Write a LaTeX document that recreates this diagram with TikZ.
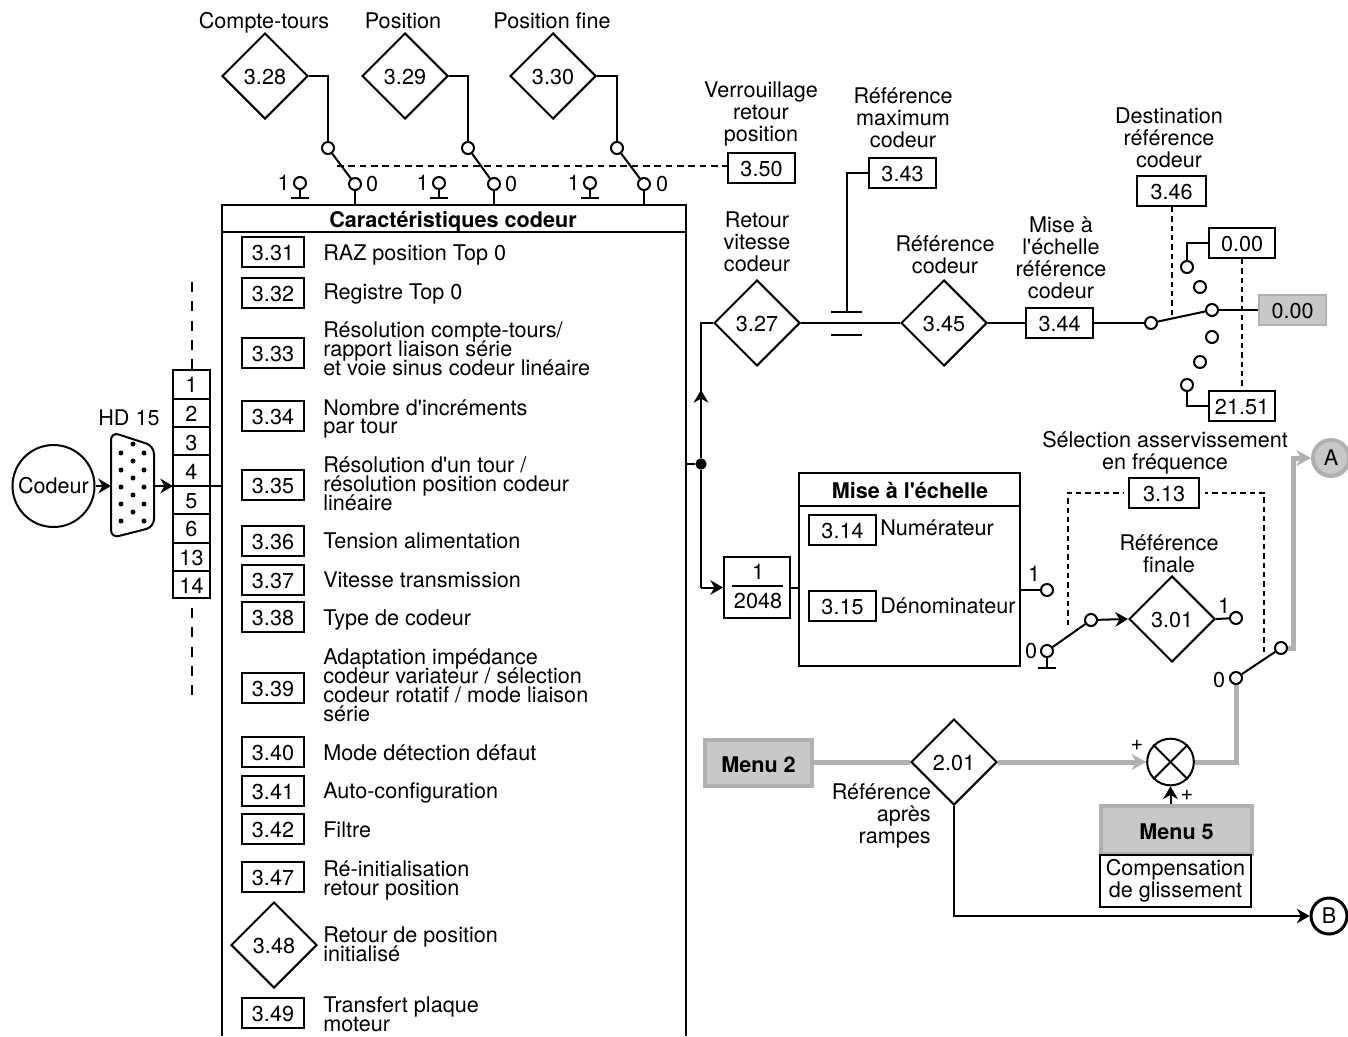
\documentclass[tikz,border=0pt]{standalone}
\usepackage{fontspec}
\setmainfont{TeX Gyre Heros}
\newfontfamily\apf{TeX Gyre Heros}
\newcommand{\qq}{{\apf'}}
\newcommand{\fnt}{\fontsize{16.2}{16.5}\selectfont}
\usetikzlibrary{arrows.meta,shapes.geometric,calc}
\definecolor{gfill}{HTML}{C8C8C8}
\definecolor{gline}{HTML}{B0B0B0}
\tikzset{
  wire/.style={line width=1.5pt,black},
  dashh/.style={line width=1.5pt,dash pattern=on 5pt off 3.5pt},
  dashv/.style={line width=1.5pt,dash pattern=on 4pt off 3pt},
  gwire/.style={line width=3.75pt,gline},
  atip/.style={-{Stealth[length=9.5pt,width=11pt]}},
  gtip/.style={-{Stealth[length=11pt,width=12pt]}},
  lbl/.style={inner sep=0pt,align=center,font=\fnt},
  rlbl/.style={inner sep=0pt,align=right,anchor=east,font=\fnt},
  itemt/.style={inner sep=0pt,align=left,anchor=west,font=\fontsize{16.2}{14.2}\selectfont},
  ttl/.style={inner sep=0pt,font=\fnt\bfseries},
  pbox/.style={draw,line width=1.5pt,fill=white,inner sep=0pt,minimum width=46.5pt,minimum height=22.5pt,font=\fnt,text height=13pt,text depth=0pt},
  rbox/.style={pbox,minimum width=50pt},
  gbox/.style={rbox,fill=gfill,draw=gline},
  pinlab/.style={inner sep=0pt,font=\fnt},
  dia/.style={diamond,aspect=1,draw,line width=1.5pt,fill=white,inner sep=0pt,minimum width=64.5pt,minimum height=64.5pt,font=\fnt,text height=13pt,text depth=0pt},
  sw/.style={circle,draw,line width=1.5pt,fill=white,inner sep=0pt,minimum size=9pt},
  menubox/.style={draw=gline,line width=3pt,fill=gfill,inner sep=0pt,font=\fnt\bfseries,text height=13.5pt,text depth=0pt},
  conn/.style={circle,draw,line width=1.5pt,fill=white,inner sep=0pt,minimum size=27pt,font=\fnt},
}
\begin{document}
\begin{tikzpicture}[x=0.75pt,y=-0.75pt]
\lineskip=0pt\relax
\lineskiplimit=-20pt\relax
\useasboundingbox (0,0) rectangle (1348,1036);
% ---- main box
\coordinate (mbTL) at (222,205);
\coordinate (mbTR) at (686,205);
\coordinate (mbHL) at (222,232);
\coordinate (mbHR) at (686,232);
\coordinate (mbBL) at (222,1036);
\coordinate (mbBR) at (686,1036);
\draw[wire] (mbBL) -- (mbTL) -- (mbTR) -- (mbBR);
\draw[wire] (mbHL) -- (mbHR);
\node[ttl] (mbtitle) at (453,222) {Caractéristiques codeur};
\foreach \nm/\id/\yy in {3.31/31/252,3.32/32/293,3.33/33/353,3.34/34/416,3.35/35/485,3.36/36/541,3.37/37/580,3.38/38/617,3.39/39/688,3.40/40/752,3.41/41/791,3.42/42/829,3.47/47/877,3.49/49/1013}
  \node[pbox] (p\id) at (273,\yy) {\nm};
\node[dia] (p48) at (274,945) {3.48};
\node[itemt] (t331) at (323,255) {RAZ position Top 0};
\node[itemt] (t332) at (323,294) {Registre Top 0};
\node[itemt] (t333) at (323,349) {Résolution compte-tours/\\rapport liaison série\\et voie sinus codeur linéaire};
\node[itemt] (t334) at (323,419) {Nombre d\qq incréments\\par tour};
\node[itemt] (t335) at (323,484) {Résolution d\qq un tour /\\résolution position codeur\\linéaire};
\node[itemt] (t336) at (323,541) {Tension alimentation};
\node[itemt] (t337) at (323,580) {Vitesse transmission};
\node[itemt] (t338) at (323,620) {Type de codeur};
\node[itemt] (t339) at (323,685.5) {Adaptation impédance\\codeur variateur / sélection\\codeur rotatif / mode liaison\\série};
\node[itemt] (t340) at (323,753) {Mode détection défaut};
\node[itemt] (t341) at (323,793) {Auto-configuration};
\node[itemt] (t342) at (323,830) {Filtre};
\node[itemt] (t347) at (323,880) {Ré-initialisation\\retour position};
\node[itemt] (t348) at (323,944) {Retour de position\\initialisé};
\node[itemt] (t349) at (323,1014) {Transfert plaque\\moteur};
% ---- left side
\node[circle,draw,line width=1.5pt,inner sep=0pt,minimum size=61.5pt,font=\fnt] (cod) at (53.5,486) {Codeur};
\node[pinlab] (hdl) at (129,418) {HD 15};
\draw[wire,line join=round,rounded corners=6pt] (111,432) -- (154,446) -- (154,527) -- (111,538) -- cycle;
\coordinate (hdw) at (111,486);
\coordinate (hde) at (154,486);
\foreach \yy in {453,470,487,504,521} {\fill (121,\yy) circle (2.5); \fill (144,\yy) circle (2.5);}
\foreach \yy in {444,461,478,495,512} \fill (133,\yy) circle (2.5);
\draw[wire,atip] (cod) -- (hdw);
\coordinate (pinW) at (173,486);
\coordinate (pinE) at (222,486);
\draw[wire,atip] (hde) -- (pinW);
\draw[wire] (173,370) rectangle (210,598);
\foreach \yy in {399,427,455,514,543,571} \draw[wire] (173,\yy) -- (210,\yy);
\draw[wire] (pinW) -- (pinE);
\foreach \lab/\yy in {1/385,2/414,3/443,4/472,5/501,6/529,13/558,14/586} \node[pinlab] (pin\lab) at (191.5,\yy) {\lab};
\coordinate (dA) at (192,282); \coordinate (dB) at (192,370);
\coordinate (dC) at (192,608); \coordinate (dD) at (192,695);
\draw[line width=1.5pt,dash pattern=on 7.5pt off 7pt] (dA) -- (dB);
\draw[line width=1.5pt,dash pattern=on 7.5pt off 7pt] (dC) -- (dD);
% ---- top diamonds & switches
\node[lbl] (tA) at (264,23) {Compte-tours};
\node[lbl] (tB) at (403,21) {Position};
\node[lbl] (tC) at (552,21) {Position fine};
\node[dia] (d28) at (265,76) {3.28};
\node[dia] (d29) at (405,76) {3.29};
\node[dia] (d30) at (553,76) {3.30};
\node[rbox] (b350) at (761.5,168) {3.50};
\node[lbl] (tV) at (761,114) {Verrouillage\\retour\\position};
\foreach \n/\xa/\xb/\xc/\xd in {a/328/355/300/372,b/468/494/439/511,c/617/644/590/662}{
  \node[sw] (top\n) at (\xa,148) {};
  \node[sw] (zer\n) at (\xb,184) {};
  \node[sw] (one\n) at (\xc,183) {};
  \node[pinlab] (l0\n) at (\xd,184) {0};
  \node[pinlab,anchor=east] (l1\n) at (\xc-10,183) {1};
  \coordinate (gnd\n) at (\xc,198);
  \coordinate (mb\n) at (\xb,205);
  \draw[wire] (top\n) -- (zer\n);
  \draw[wire] (zer\n) -- (mb\n);
  \draw[wire] (one\n) -- (gnd\n);
  \draw[wire] ($(gnd\n)+(-9,0)$) -- ($(gnd\n)+(9,0)$);
}
\draw[wire] (d28.east) -| (topa);
\draw[wire] (d29.east) -| (topb);
\draw[wire] (d30.east) -| (topc);
\coordinate (lk) at (337,166);
\draw[dashh] (lk) -- (lk -| b350.west);
% ---- retour vitesse chain
\node[lbl] (tR) at (757,242) {Retour\\vitesse\\codeur};
\node[dia] (d27) at (757,323) {3.27};
\node[dia] (d45) at (944,323) {3.45};
\node[lbl] (tRC) at (945,254.5) {Référence\\codeur};
\node[rbox] (b343) at (902.5,172.5) {3.43};
\node[lbl] (tRM) at (903,118) {Référence\\maximum\\codeur};
\coordinate (capT) at (847,312);
\draw[wire] (d27.east) -- (d45.west);
\draw[wire] (831,312) -- (862,312);
\draw[wire] (831,335) -- (862,335);
\draw[wire] (capT) |- (b343.west);
\node[rbox] (b344) at (1059.5,323) {3.44};
\node[lbl] (tME) at (1061,257.5) {Mise à\\l\qq échelle\\référence\\codeur};
\draw[wire] (d45.east) -- (b344.west);
\node[rbox,minimum width=52pt] (b346) at (1171.5,191) {3.46};
\node[lbl] (tDR) at (1169,138) {Destination\\référence\\codeur};
\node[sw] (s0) at (1151,323) {};
\node[sw] (s1) at (1187,267) {};
\node[sw] (s2) at (1200,287) {};
\node[sw] (s3) at (1212,310) {};
\node[sw] (s4) at (1212,337) {};
\node[sw] (s5) at (1200,362) {};
\node[sw] (s6) at (1187,385) {};
\node[rbox] (b000) at (1242,243) {0.00};
\node[rbox] (b2151) at (1242,406) {21.51};
\node[gbox] (bout) at (1292.5,310) {0.00};
\draw[dashv] (b000.south) -- (b2151.north);
\draw[wire] (b344.east) -- (s0);
\draw[wire] (s0) -- (s3);
\draw[wire] (s3) -- (bout.west);
\draw[wire] (s1) |- (b000.west);
\draw[wire] (s6) |- (b2151.west);
\coordinate (sm) at (1172,317);
\draw[dashv] (b346.south -| sm) -- (sm);
% ---- branch
\node[circle,fill,inner sep=0pt,minimum size=8.5pt] (jn) at (701,464) {};
\coordinate (jm) at (686,464);
\draw[wire] (jm) -- (jn);
\node[draw,line width=1.5pt,inner sep=0pt,minimum width=49.5pt,minimum height=45.5pt] (frac) at (757,587.5) {};
\node[pinlab] (fr1) at (758,572) {1};
\node[pinlab] (fr2) at (758,601) {2048};
\draw[wire] (732,585.5) -- (783,585.5);
\coordinate (jb) at (701,587.5);
\draw[wire] (jn) -- (jb);
\draw[wire,atip] (jb) -- (frac.west);
\draw[wire] (jn) |- (d27.west);
\coordinate (ju) at (701,390);
\draw[wire,atip] (jn) -- (ju);
% ---- Mise a l'echelle
\coordinate (mTL) at (799,473); \coordinate (mBR) at (1020,666);
\draw[wire] (mTL) rectangle (mBR);
\draw[wire] (799,506) -- (1020,506);
\node[ttl] (mtitle) at (910,490) {Mise à l\qq échelle};
\node[rbox] (b314) at (842.5,529.5) {3.14};
\node[rbox] (b315) at (842.5,605.5) {3.15};
\node[itemt] (tnum) at (880,528) {Numérateur};
\node[itemt] (tden) at (880,606) {Dénominateur};
\draw[wire] (frac.east) -- (799,587.5);
\node[sw] (o1) at (1047,590) {};
\coordinate (mo) at (1020,590);
\draw[wire] (mo) -- (o1);
\node[pinlab] (lo1) at (1034,574) {1};
\node[sw] (o0) at (1047,651) {};
\node[pinlab] (lo0) at (1031,651) {0};
\coordinate (og) at (1047,668);
\draw[wire] (o0) -- (og);
\draw[wire] (1038,668) -- (1056,668);
\node[sw] (om) at (1091,620) {};
\draw[wire] (o0) -- (om);
\node[dia] (d01) at (1172,619) {3.01};
\draw[wire,atip] (om) -- (d01.west);
\node[lbl] (tRF) at (1169,554) {Référence\\finale};
\node[sw] (f1) at (1236,618) {};
\draw[wire] (d01.east) -- (f1);
\node[pinlab] (lf1) at (1224,606) {1};
\node[rbox,minimum width=52pt] (b313) at (1164,493) {3.13};
\node[lbl] (tSA) at (1165,453) {Sélection asservissement\\en fréquence};
\coordinate (dl) at (1068,625); \coordinate (dr) at (1264,652);
\draw[dashv] (dl) |- ($(b313.west)+(-5,0)$);
\draw[dashv] (dr) |- ($(b313.east)+(5,0)$);
% ---- output switch
\node[sw] (r0) at (1236,678) {};
\node[sw] (rt) at (1281,648) {};
\node[pinlab] (lr0) at (1219,680) {0};
\draw[wire] (r0) -- (rt);
\node[conn,draw=gline,line width=3pt,fill=gfill] (A) at (1331,458) {A};
\node[conn,line width=2.25pt] (B) at (1329,916) {B};
\coordinate (ac) at (1293,458);
\draw[gwire,line join=miter] (rt) -| (ac) -- (1304,458);
\draw[gtip,gline,line width=2pt] (ac) -- (A.west);
% ---- lower chain
\node[circle,draw,line width=1.5pt,fill=white,inner sep=0pt,minimum size=35pt] (sum) at (1170.5,762) {};
\draw[wire] (sum.north west) -- (sum.south east);
\draw[wire] (sum.north east) -- (sum.south west);
\node[dia] (d201) at (954,762) {2.01};
\node[menubox,minimum width=80pt,minimum height=34pt] (m2) at (758.5,763) {Menu 2};
\node[menubox,minimum width=113pt,minimum height=36pt] (m5) at (1176.5,830) {Menu 5};
\node[draw,line width=1.5pt,inner sep=0pt,minimum width=113pt,minimum height=39pt,lbl] (comp) at (1175.5,881) {Compensation\\de glissement};
\node[rlbl] (tRA) at (931,816) {Référence\\après\\rampes};
\node[pinlab] (pl1) at (1137,745) {+};
\node[pinlab] (pl2) at (1187,795) {+};
\draw[gwire] (m2.east |- d201.west) -- (d201.west);
\draw[gwire,shorten >=8pt] (d201.east) -- (sum.west);
\draw[gtip,gline,line width=2pt] (1125,762) -- (sum.west);
\draw[gwire] (sum.east) -| (r0.south);
\coordinate (up5) at (sum.south |- m5.north);
\draw[wire,atip] (up5) -- (sum.south);
\draw[wire,atip] (d201.south) |- (B.west);
\end{tikzpicture}
\end{document}
